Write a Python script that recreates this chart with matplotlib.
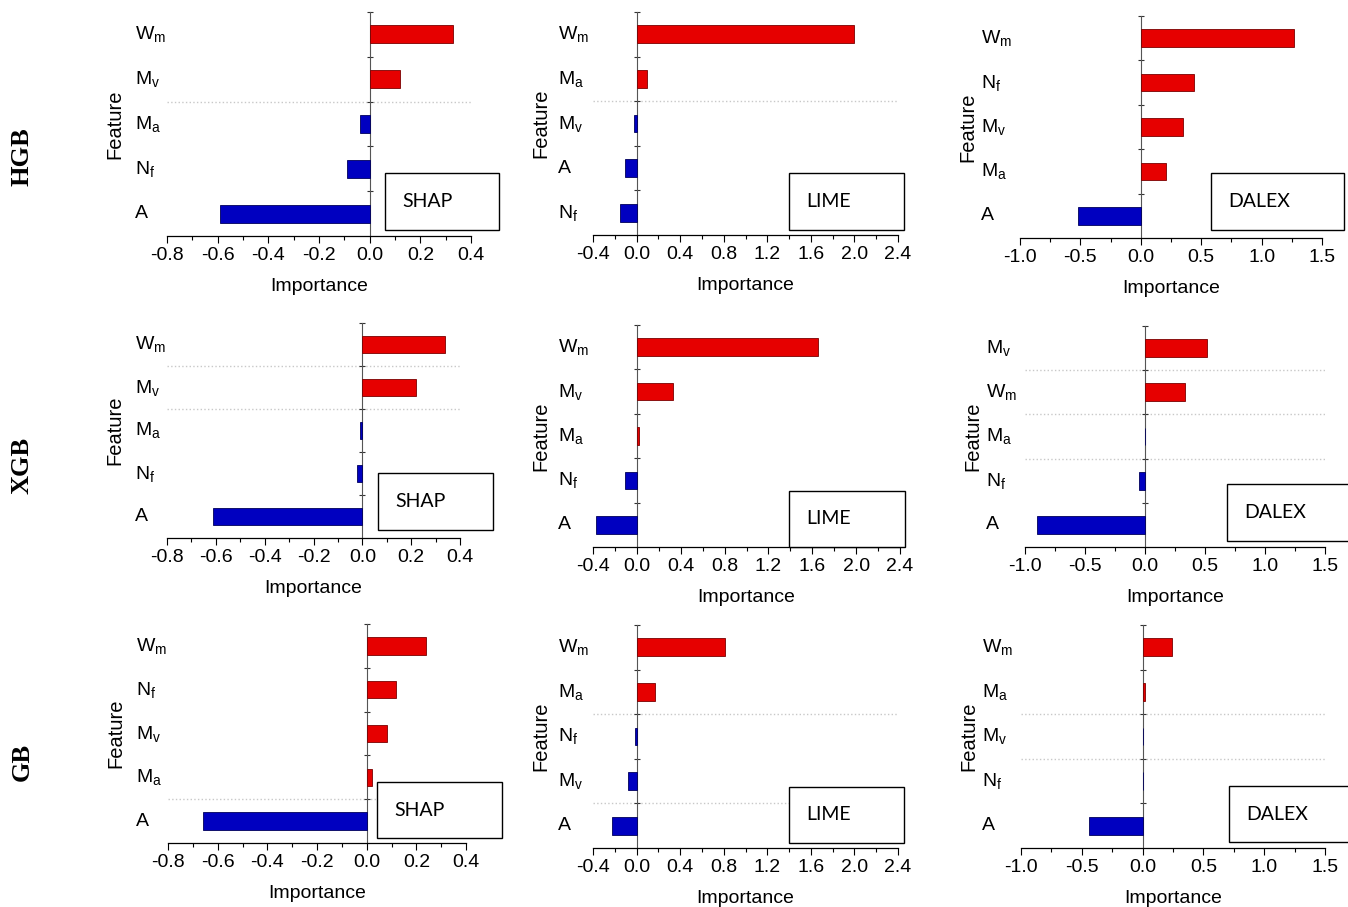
import numpy as np
import matplotlib
matplotlib.use('Agg')
import matplotlib.pyplot as plt
from matplotlib.patches import Rectangle

plt.rcParams['font.family'] = ['Liberation Sans', 'DejaVu Sans']
plt.rcParams['mathtext.fontset'] = 'custom'
plt.rcParams['mathtext.rm'] = 'Liberation Sans'
plt.rcParams['mathtext.it'] = 'Liberation Sans'
plt.rcParams['axes.unicode_minus'] = False

# Dane: wiersze = modele, kolumny = metody
models = ['HGB', 'XGB', 'GB']
methods = ['SHAP', 'LIME', 'DALEX']

# cechy od góry do dołu i wartości ważności
hgb_shap_feat = ['Wm', 'Mv', 'Ma', 'Nf', 'A']
hgb_shap_val = [0.33, 0.12, -0.04, -0.09, -0.59]
hgb_lime_feat = ['Wm', 'Ma', 'Mv', 'A', 'Nf']
hgb_lime_val = [2.00, 0.10, -0.02, -0.11, -0.15]
hgb_dalex_feat = ['Wm', 'Nf', 'Mv', 'Ma', 'A']
hgb_dalex_val = [1.27, 0.44, 0.35, 0.21, -0.52]

xgb_shap_feat = ['Wm', 'Mv', 'Ma', 'Nf', 'A']
xgb_shap_val = [0.34, 0.22, -0.01, -0.02, -0.61]
xgb_lime_feat = ['Wm', 'Mv', 'Ma', 'Nf', 'A']
xgb_lime_val = [1.65, 0.33, 0.02, -0.11, -0.37]
xgb_dalex_feat = ['Mv', 'Wm', 'Ma', 'Nf', 'A']
xgb_dalex_val = [0.52, 0.33, 0.0, -0.05, -0.90]

gb_shap_feat = ['Wm', 'Nf', 'Mv', 'Ma', 'A']
gb_shap_val = [0.24, 0.12, 0.08, 0.02, -0.66]
gb_lime_feat = ['Wm', 'Ma', 'Nf', 'Mv', 'A']
gb_lime_val = [0.81, 0.17, -0.01, -0.08, -0.23]
gb_dalex_feat = ['Wm', 'Ma', 'Mv', 'Nf', 'A']
gb_dalex_val = [0.24, 0.02, 0.0, 0.0, -0.44]

shap_ticks = [-0.8, -0.6, -0.4, -0.2, 0.0, 0.2, 0.4]
lime_ticks = [-0.4, 0.0, 0.4, 0.8, 1.2, 1.6, 2.0, 2.4]
dalex_ticks = [-1.0, -0.5, 0.0, 0.5, 1.0, 1.5]

feats = [[hgb_shap_feat, hgb_lime_feat, hgb_dalex_feat],
         [xgb_shap_feat, xgb_lime_feat, xgb_dalex_feat],
         [gb_shap_feat, gb_lime_feat, gb_dalex_feat]]
vals = [[hgb_shap_val, hgb_lime_val, hgb_dalex_val],
        [xgb_shap_val, xgb_lime_val, xgb_dalex_val],
        [gb_shap_val, gb_lime_val, gb_dalex_val]]
ticks = [shap_ticks, lime_ticks, dalex_ticks]

labels_tex = {'Wm': r'W$_{\mathrm{m}}$', 'Mv': r'M$_{\mathrm{v}}$',
              'Ma': r'M$_{\mathrm{a}}$', 'Nf': r'N$_{\mathrm{f}}$', 'A': 'A'}

# Układ w pikselach: (x_lewo, x_prawo, y_góra, y_dół)
W, H = 1348, 907
axes_px = [[(167, 471, 12, 236), (593, 898, 12, 235), (1020, 1322, 16, 238)],
           [(167, 460, 323, 538), (593, 900, 325, 547), (1025, 1325, 326, 547)],
           [(168, 466, 624, 843), (593, 898, 625, 848), (1021, 1325, 625, 848)]]
box_px = [[(385, 499, 173, 230), (789, 904, 173, 230), (1211, 1344, 173, 230)],
          [(378, 493, 473, 530), (789, 905, 491, 547), (1227, 1360, 484, 541)],
          [(377, 502, 782, 838), (789, 904, 787, 843), (1229, 1360, 786, 842)]]
# kropkowane linie pomocnicze (granice między kategoriami)
dotted = [[[2.5], [2.5], []],
          [[3.5, 2.5], [], [3.5, 2.5, 1.5]],
          [[0.5], [2.5, 0.5], [2.5, 1.5]]]
label_off = [32, 35, 39]
row_y = [157, 465, 762]

red = '#E60000'
blue = '#0000C0'

fig = plt.figure(figsize=(W / 100, H / 100), dpi=100)

for r in range(3):
    for c in range(3):
        x0, x1, y0, y1 = axes_px[r][c]
        ax = fig.add_axes([x0 / W, 1 - y1 / H, (x1 - x0) / W, (y1 - y0) / H])
        v = np.array(vals[r][c])
        n = len(v)
        ypos = np.arange(n)[::-1]
        colors = [red if x > 0 else blue for x in v]
        edges = ['#7a0000' if x > 0 else '#00005a' for x in v]
        ax.barh(ypos, v, height=0.4, color=colors, edgecolor=edges, linewidth=0.6, zorder=3)
        for yl in dotted[r][c]:
            ax.axhline(yl, color='#c8c8c8', linestyle=':', linewidth=1.0, zorder=1)
        t = ticks[c]
        ax.set_xlim(t[0], t[-1])
        ax.set_ylim(-0.5, n - 0.5)
        ax.set_xticks(t)
        ax.set_xticklabels(['%.1f' % x for x in t], fontsize=14)
        step = t[1] - t[0]
        ax.set_xticks(np.arange(t[0] + step / 2, t[-1], step), minor=True)
        ax.tick_params(axis='x', which='major', direction='out', length=5, width=0.8, pad=3)
        ax.tick_params(axis='x', which='minor', direction='out', length=3, width=0.8)
        ax.spines['left'].set_position(('data', 0))
        ax.spines['left'].set_color('#555555')
        ax.spines['top'].set_visible(False)
        ax.spines['right'].set_visible(False)
        ax.spines['bottom'].set_linewidth(0.9)
        ax.set_yticks(np.arange(n) + 0.5)
        ax.tick_params(axis='y', direction='inout', length=5, width=0.8,
                       color='#333333', labelleft=False)
        for f, yy in zip(feats[r][c], ypos):
            ax.annotate(labels_tex[f], xy=(0, yy), xycoords=('axes fraction', 'data'),
                        xytext=(-label_off[c], 0), textcoords='offset pixels',
                        ha='left', va='center', fontsize=14)
        ax.annotate('Feature', xy=(0, 0.5), xycoords='axes fraction',
                    xytext=(-52, 0), textcoords='offset pixels',
                    rotation=90, ha='center', va='center', fontsize=14.5)
        ax.set_xlabel('Importance', fontsize=14, labelpad=10)

        bx0, bx1, by0, by1 = box_px[r][c]
        fig.add_artist(Rectangle((bx0 / W, 1 - by1 / H), (bx1 - bx0) / W, (by1 - by0) / H,
                                 transform=fig.transFigure, facecolor='white',
                                 edgecolor='black', linewidth=1.0, zorder=5))
        fig.text((bx0 + 17) / W, 1 - (by0 + by1) / 2 / H, methods[c],
                 fontsize=14, family=['Lato', 'DejaVu Sans'],
                 ha='left', va='center', zorder=6)

for r in range(3):
    fig.text(22 / W, 1 - row_y[r] / H, models[r], rotation=90, fontsize=19,
             fontweight='bold', family=['Liberation Serif', 'DejaVu Serif'],
             ha='center', va='center')

fig.savefig('out.png', dpi=100)
